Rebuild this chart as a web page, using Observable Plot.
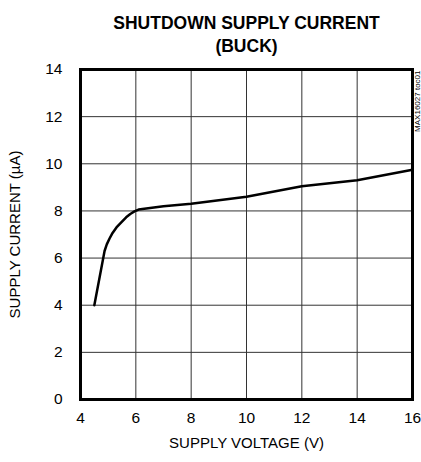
<!DOCTYPE html>
<html><head><meta charset="utf-8">
<script src="https://cdn.jsdelivr.net/npm/d3@7"></script>
<script src="https://cdn.jsdelivr.net/npm/@observablehq/plot@0.6"></script>
<style>body{margin:0;background:#fff}</style>
</head><body><div id="chart"></div>
<script>
const voltage = [4.5, 4.87, 4.95, 5.05, 5.14, 5.3, 5.5, 5.65, 5.8, 5.95, 6.1, 7.0, 8.0, 10.0, 12.0, 14.0, 16.0];
const current = [4.0, 6.3, 6.58, 6.83, 7.03, 7.3, 7.55, 7.73, 7.87, 7.98, 8.06, 8.2, 8.3, 8.6, 9.05, 9.3, 9.75];
const xTicks = [4, 6, 8, 10, 12, 14, 16];
const yTicks = [0, 2, 4, 6, 8, 10, 12, 14];
const title1 = "SHUTDOWN SUPPLY CURRENT";
const title2 = "(BUCK)";
const xLabel = "SUPPLY VOLTAGE (V)";
const yLabel = "SUPPLY CURRENT (µA)";
const note = "MAX16027 toc01";

const data = voltage.map((v, i) => ({v, c: current[i]}));
const font = "'Liberation Sans Narrow', 'Arial Narrow', 'Liberation Sans', sans-serif";

const chart = Plot.plot({
  width: 421, height: 462,
  marginLeft: 80, marginRight: 9, marginTop: 69, marginBottom: 63,
  style: {fontFamily: font, fontSize: "14px", color: "#000", background: "#fff"},
  x: {domain: [4, 16], ticks: xTicks, label: null},
  y: {domain: [0, 14], ticks: yTicks, label: null},
  marks: [
    Plot.gridX(xTicks, {stroke: "#333", strokeOpacity: 1, strokeWidth: 1}),
    Plot.gridY(yTicks, {stroke: "#333", strokeOpacity: 1, strokeWidth: 1}),
    Plot.axisX(xTicks, {tickSize: 0, tickPadding: 12, fontSize: 15.5}),
    Plot.axisY(yTicks, {tickSize: 0, tickPadding: 18, fontSize: 15.5}),
    Plot.line(data, {x: "v", y: "c", stroke: "#000", strokeWidth: 2.5, curve: "linear"}),
    Plot.frame({stroke: "#000", strokeWidth: 3}),
    Plot.text([title1], {text: d => d, frameAnchor: "top", dy: -53, fontSize: 17.5, fontWeight: "bold"}),
    Plot.text([title2], {text: d => d, frameAnchor: "top", dy: -30, fontSize: 17.5, fontWeight: "bold"}),
    Plot.text([xLabel], {text: d => d, frameAnchor: "bottom", dy: 48, fontSize: 15}),
    Plot.text([yLabel], {text: d => d, frameAnchor: "left", dx: -65, rotate: -90, fontSize: 15, textAnchor: "middle"}),
    Plot.text([note], {text: d => d, frameAnchor: "top-right", dx: 2, dy: 1, rotate: -90, fontSize: 8, textAnchor: "end", fill: "#000"})
  ]
});
document.getElementById("chart").append(chart);
</script></body></html>
